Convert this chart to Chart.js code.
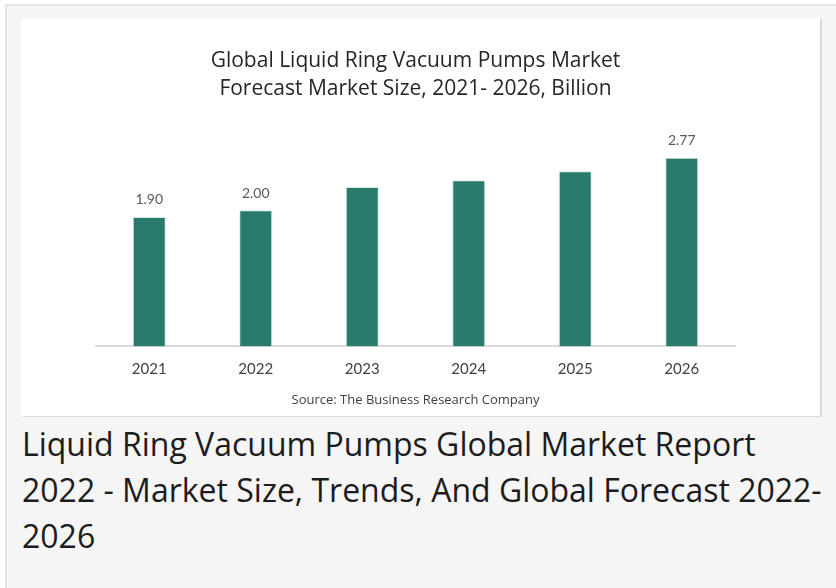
<!DOCTYPE html>
<html>
<head>
<meta charset="utf-8">
<script src="https://cdn.jsdelivr.net/npm/chart.js@4"></script>
<style>
  html, body { margin: 0; padding: 0; background: #fff; }
  body { width: 836px; height: 588px; position: relative; overflow: hidden; }
  .frame { position: absolute; left: 5px; top: 4px; right: -4px; bottom: -4px; background: #f5f5f5; border-left: 2px solid #e4e4e4; border-top: 2px solid #e4e4e4; }
  .card { position: absolute; left: 21px; top: 18px; width: 799px; height: 398px; background: #fff; box-shadow: 2px 1px 0 #dadada; }
  .caption { position: absolute; left: 22px; top: 421px; width: 805px; font-family: "Open Sans", sans-serif; font-size: 32px; line-height: 46px; color: #1c1c1c; }
</style>
</head>
<body>
<div class="frame"></div>
<div class="card"><canvas id="chart"></canvas></div>
<div class="caption">Liquid Ring Vacuum Pumps Global Market Report 2022 - Market Size, Trends, And Global Forecast 2022-2026</div>
<script>
  // ---------- dados ----------
  const years = ['2021', '2022', '2023', '2024', '2025', '2026'];
  const marketSize = [1.90, 2.00, 2.34, 2.44, 2.57, 2.77];
  const shownLabels = ['1.90', '2.00', null, null, null, '2.77'];
  const titleLines = ['Global Liquid Ring Vacuum Pumps Market', 'Forecast Market Size, 2021- 2026, Billion'];
  const sourceText = 'Source: The Business Research Company';

  const BAR = '#287a6c';
  const FONT = 'Lato, "Open Sans", sans-serif';
  const FONT2 = '"Open Sans", sans-serif';

  // rótulos só nos anos marcados
  const valueLabels = {
    id: 'valueLabels',
    afterDatasetsDraw(chart) {
      const ctx = chart.ctx;
      const meta = chart.getDatasetMeta(0);
      ctx.save();
      ctx.font = '14px ' + FONT;
      ctx.fillStyle = '#595959';
      ctx.textAlign = 'center';
      ctx.textBaseline = 'middle';
      meta.data.forEach((bar, i) => {
        if (shownLabels[i]) ctx.fillText(shownLabels[i], bar.x, bar.y - 17);
      });
      ctx.restore();
    }
  };

  const cv = document.getElementById('chart');
  cv.width = 799; cv.height = 398;

  new Chart(cv, {
    type: 'bar',
    data: {
      labels: years,
      datasets: [{
        data: marketSize,
        backgroundColor: BAR,
        borderColor: 'rgba(210,232,228,0.9)',
        borderWidth: 1,
        barPercentage: 0.31,
        categoryPercentage: 1
      }]
    },
    options: {
      responsive: false,
      animation: false,
      layout: { padding: { top: 0, bottom: 0, left: 75, right: 85 } },
      plugins: {
        legend: { display: false },
        tooltip: { enabled: false },
        title: {
          display: true, text: titleLines, color: '#262626',
          font: { family: FONT2, size: 21, weight: 'normal', lineHeight: 28 / 21 },
          padding: { top: 29, bottom: 39 }
        },
        subtitle: {
          display: true, position: 'bottom', text: sourceText, color: '#404040',
          font: { family: FONT2, size: 13, weight: 'normal', lineHeight: 1.2 },
          padding: { top: 0, bottom: 8 }
        }
      },
      scales: {
        x: {
          grid: { display: false, drawTicks: false },
          border: { display: true, color: '#d9d9d9', width: 2 },
          ticks: { color: '#404040', padding: 14, font: { family: FONT, size: 15 } }
        },
        y: { display: false, min: 0, max: 3 }
      }
    },
    plugins: [valueLabels]
  });
</script>
</body>
</html>
